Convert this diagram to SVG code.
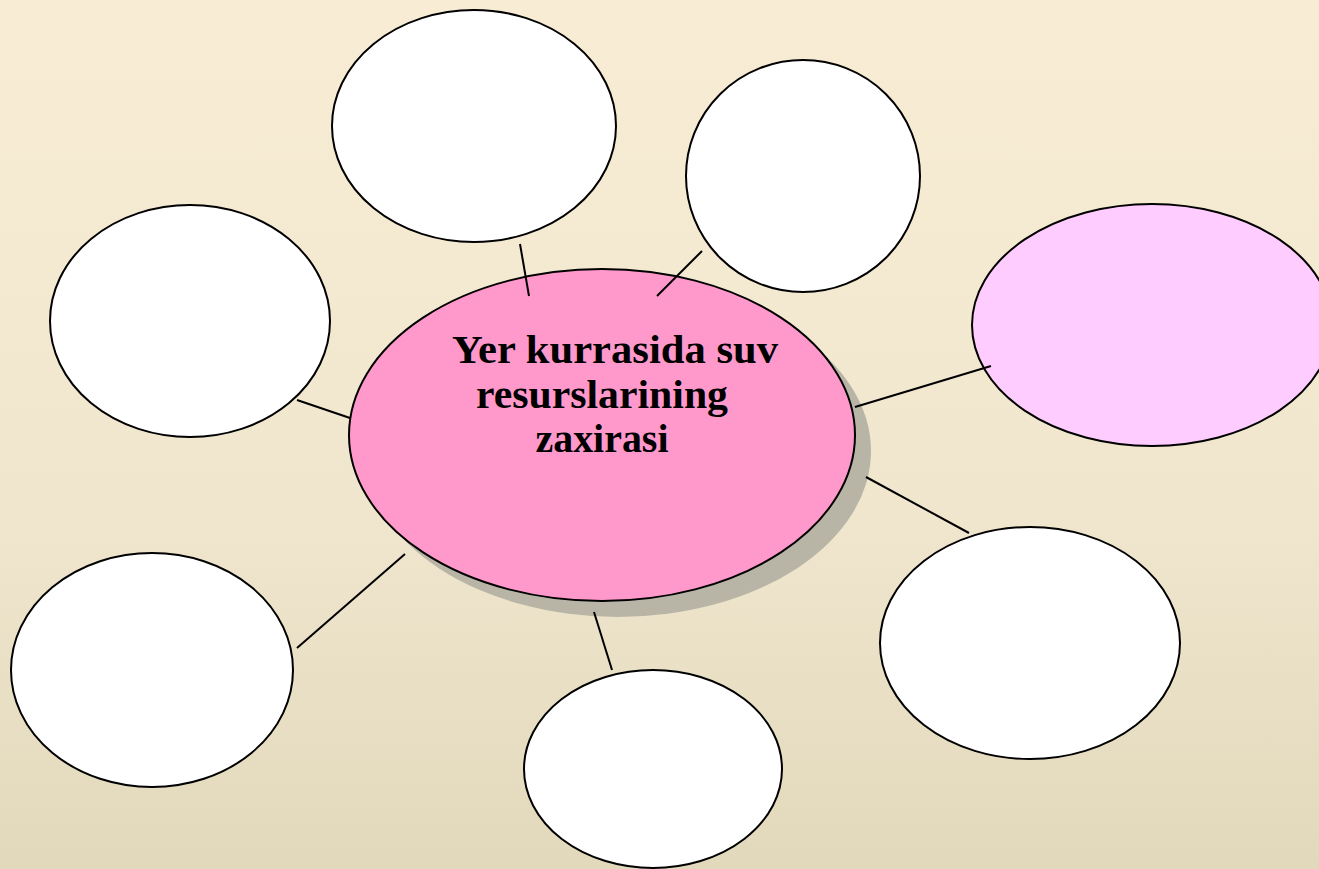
<svg xmlns="http://www.w3.org/2000/svg" width="1319" height="869" viewBox="0 0 1319 869">
  <defs>
    <linearGradient id="bg" x1="0" y1="0" x2="0" y2="1">
      <stop offset="0" stop-color="#F8ECD4"/>
      <stop offset="0.6" stop-color="#F0E6CE"/>
      <stop offset="1" stop-color="#E2D8BB"/>
    </linearGradient>
  </defs>
  <style>
    .node { fill: #FFFFFF; stroke: #000000; stroke-width: 2; }
    .conn line { stroke: #000000; stroke-width: 2; }
    .label { font-family: "Liberation Serif", "DejaVu Serif", serif; font-weight: bold; font-size: 40px; fill: #000000; text-anchor: middle; }
  </style>
  <rect x="0" y="0" width="1319" height="869" fill="url(#bg)"/>

  <g id="node-top"><ellipse class="node" cx="474" cy="126" rx="142" ry="116"/></g>
  <g id="node-top-right"><ellipse class="node" cx="803" cy="176" rx="117" ry="116"/></g>
  <g id="node-left"><ellipse class="node" cx="190" cy="321" rx="140" ry="116"/></g>
  <g id="node-right"><ellipse class="node" cx="1152" cy="325" rx="180" ry="121" style="fill:#FFCCFF"/></g>
  <g id="node-bottom-right"><ellipse class="node" cx="1030" cy="643" rx="150" ry="116"/></g>
  <g id="node-bottom-left"><ellipse class="node" cx="152" cy="670" rx="141" ry="117"/></g>
  <g id="node-bottom"><ellipse class="node" cx="653" cy="769" rx="129" ry="99"/></g>

  <g id="node-center">
    <ellipse cx="618" cy="451" rx="253" ry="166" fill="#B8B5A7"/>
    <ellipse class="node" cx="602" cy="435" rx="253" ry="166" style="fill:#FF99CC"/>
    <text class="label" x="615" y="363" textLength="326" lengthAdjust="spacingAndGlyphs">Yer kurrasida suv</text>
    <text class="label" x="602" y="408" textLength="252" lengthAdjust="spacingAndGlyphs">resurslarining</text>
    <text class="label" x="602" y="452" textLength="133" lengthAdjust="spacingAndGlyphs">zaxirasi</text>
  </g>

  <g id="connectors" class="conn">
    <line x1="520" y1="244" x2="529" y2="296"/>
    <line x1="702" y1="251" x2="657" y2="296"/>
    <line x1="297" y1="400" x2="350" y2="418"/>
    <line x1="855" y1="407" x2="991" y2="366"/>
    <line x1="866" y1="477" x2="969" y2="533"/>
    <line x1="405" y1="554" x2="297" y2="648"/>
    <line x1="594" y1="612" x2="612" y2="670"/>
  </g>
</svg>
